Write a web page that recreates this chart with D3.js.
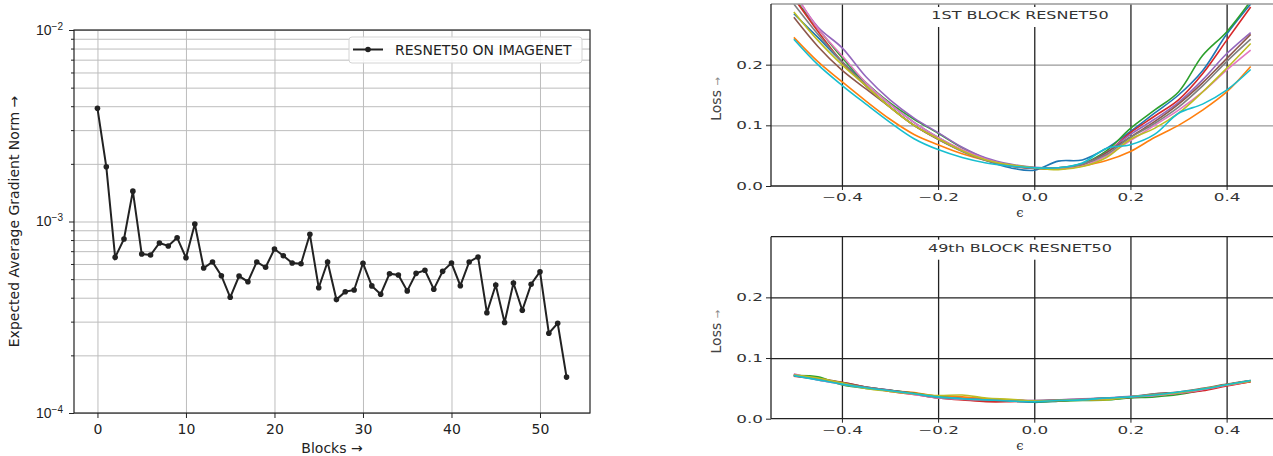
<!DOCTYPE html>
<html>
<head>
<meta charset="utf-8">
<script src="https://cdn.jsdelivr.net/npm/d3@7"></script>
<style>
  body { margin: 0; background: #fff; }
  svg { display: block; font-family: "DejaVu Sans", sans-serif; }
</style>
</head>
<body>
<svg id="fig" width="1273" height="456"></svg>
<script>
// ---- data ----
const blocks = [0,1,2,3,4,5,6,7,8,9,10,11,12,13,14,15,16,17,18,19,20,21,22,23,24,25,26,
  27,28,29,30,31,32,33,34,35,36,37,38,39,40,41,42,43,44,45,46,47,48,49,50,51,52,53];
const gradNorm = [3.9e-3,1.93e-3,6.5e-4,8.1e-4,1.44e-3,6.76e-4,6.68e-4,7.72e-4,7.45e-4,8.23e-4,
  6.47e-4,9.7e-4,5.72e-4,6.15e-4,5.21e-4,4.02e-4,5.19e-4,4.85e-4,6.15e-4,5.77e-4,
  7.18e-4,6.63e-4,6.07e-4,6.02e-4,8.57e-4,4.51e-4,6.15e-4,3.91e-4,4.3e-4,4.39e-4,
  6.05e-4,4.61e-4,4.17e-4,5.34e-4,5.26e-4,4.34e-4,5.36e-4,5.56e-4,4.43e-4,5.49e-4,
  6.07e-4,4.62e-4,6.15e-4,6.53e-4,3.34e-4,4.66e-4,2.97e-4,4.77e-4,3.44e-4,4.7e-4,
  5.47e-4,2.61e-4,2.94e-4,1.54e-4];
const blockTicks = [0,10,20,30,40,50];
const legendLabel = 'RESNET50 ON IMAGENET';

const eps = [-0.5,-0.45,-0.4,-0.35,-0.3,-0.25,-0.2,-0.15,-0.1,-0.05,0,0.05,0.1,0.15,0.2,0.25,0.3,0.35,0.4,0.45];
const epsTicks = [-0.4,-0.2,0,0.2,0.4];
const lossTicks = [0,0.1,0.2];
const colors = ['#1f77b4','#ff7f0e','#2ca02c','#d62728','#9467bd','#8c564b','#e377c2','#7f7f7f','#bcbd22','#17becf'];

// 1st block loss curves (one per direction)
const b1Blue   = [0.284,0.245,0.205,0.17,0.135,0.105,0.08,0.058,0.042,0.03,0.026,0.041,0.043,0.062,0.09,0.12,0.15,0.19,0.25,0.30];
const b1Orange = [0.245,0.205,0.172,0.14,0.11,0.085,0.068,0.053,0.042,0.034,0.03,0.028,0.033,0.042,0.057,0.08,0.1,0.125,0.155,0.197];
const b1Green  = [0.31,0.26,0.212,0.17,0.137,0.11,0.087,0.063,0.045,0.034,0.03,0.03,0.037,0.058,0.095,0.125,0.155,0.215,0.254,0.305];
const b1Red    = [0.31,0.255,0.205,0.165,0.13,0.1,0.077,0.058,0.043,0.033,0.03,0.028,0.035,0.055,0.088,0.115,0.142,0.185,0.24,0.295];
const b1Purple = [0.32,0.262,0.228,0.18,0.142,0.112,0.088,0.064,0.046,0.036,0.031,0.03,0.036,0.055,0.085,0.11,0.138,0.175,0.218,0.253];
const b1Brown  = [0.278,0.23,0.191,0.16,0.13,0.1,0.078,0.058,0.043,0.033,0.029,0.029,0.035,0.055,0.081,0.106,0.135,0.17,0.21,0.25];
const b1Pink   = [0.32,0.26,0.215,0.17,0.135,0.105,0.08,0.06,0.044,0.034,0.03,0.029,0.033,0.05,0.075,0.1,0.125,0.155,0.191,0.224];
const b1Gray   = [0.3,0.25,0.205,0.165,0.13,0.1,0.077,0.057,0.042,0.033,0.03,0.03,0.036,0.052,0.08,0.103,0.13,0.165,0.205,0.242];
const b1Olive  = [0.287,0.24,0.2,0.165,0.13,0.1,0.078,0.058,0.043,0.035,0.03,0.027,0.032,0.047,0.077,0.095,0.12,0.155,0.194,0.235];
const b1Cyan   = [0.242,0.2,0.166,0.135,0.105,0.078,0.06,0.047,0.038,0.033,0.03,0.03,0.038,0.062,0.068,0.085,0.12,0.135,0.158,0.192];

// 49th block loss curves
const b49Blue   = [0.073,0.066,0.059,0.052,0.047,0.042,0.037,0.034,0.031,0.030,0.027,0.029,0.032,0.034,0.036,0.039,0.042,0.048,0.056,0.062];
const b49Orange = [0.072,0.065,0.058,0.051,0.046,0.043,0.037,0.036,0.033,0.031,0.029,0.031,0.031,0.033,0.035,0.038,0.043,0.049,0.055,0.061];
const b49Green  = [0.071,0.069,0.056,0.05,0.047,0.042,0.036,0.033,0.031,0.030,0.028,0.029,0.030,0.031,0.034,0.036,0.040,0.047,0.056,0.062];
const b49Red    = [0.070,0.065,0.060,0.052,0.045,0.040,0.034,0.031,0.028,0.028,0.029,0.030,0.031,0.032,0.036,0.039,0.042,0.046,0.054,0.061];
const b49Purple = [0.072,0.064,0.058,0.051,0.047,0.041,0.035,0.033,0.031,0.031,0.029,0.031,0.033,0.034,0.037,0.040,0.043,0.048,0.056,0.062];
const b49Brown  = [0.071,0.066,0.060,0.052,0.047,0.041,0.034,0.032,0.030,0.030,0.029,0.030,0.032,0.034,0.035,0.041,0.044,0.050,0.057,0.063];
const b49Pink   = [0.074,0.064,0.057,0.051,0.046,0.040,0.034,0.032,0.031,0.031,0.030,0.031,0.032,0.033,0.036,0.038,0.042,0.048,0.055,0.062];
const b49Gray   = [0.072,0.066,0.058,0.052,0.046,0.041,0.035,0.033,0.031,0.031,0.030,0.031,0.032,0.034,0.036,0.041,0.043,0.049,0.056,0.063];
const b49Olive  = [0.072,0.067,0.059,0.050,0.045,0.041,0.038,0.039,0.034,0.032,0.029,0.030,0.031,0.031,0.036,0.039,0.043,0.049,0.056,0.062];
const b49Cyan   = [0.071,0.064,0.057,0.051,0.046,0.041,0.036,0.033,0.031,0.029,0.028,0.030,0.031,0.034,0.036,0.039,0.044,0.049,0.056,0.063];

const block1 = [b1Blue,b1Orange,b1Green,b1Red,b1Purple,b1Brown,b1Pink,b1Gray,b1Olive,b1Cyan];
const block49 = [b49Blue,b49Orange,b49Green,b49Red,b49Purple,b49Brown,b49Pink,b49Gray,b49Olive,b49Cyan];

const svg = d3.select('#fig');
const ink = '#222';

// ---- left: gradient norm per block ----
const L = {left: 74, right: 590, top: 30, bottom: 413};
const x = d3.scaleLinear().domain([-2.65, 55.65]).range([L.left, L.right]);
const y = d3.scaleLog().domain([1e-4, 1e-2]).range([L.bottom, L.top]);
const logTicks = y.ticks();           // 1e-4, 2e-4 ... 1e-2
const majors = [1e-4, 1e-3, 1e-2];

// grid
svg.append('g')
  .attr('transform', `translate(${L.left},0)`)
  .call(d3.axisLeft(y).tickValues(logTicks).tickSize(-(L.right - L.left)).tickFormat(''))
  .call(g => g.select('.domain').remove())
  .call(g => g.selectAll('line').attr('stroke', '#bdbdbd').attr('stroke-width', 1));
svg.append('g')
  .attr('transform', `translate(0,${L.bottom})`)
  .call(d3.axisBottom(x).tickValues(blockTicks).tickSize(-(L.bottom - L.top)).tickFormat(''))
  .call(g => g.select('.domain').remove())
  .call(g => g.selectAll('line').attr('stroke', '#bdbdbd').attr('stroke-width', 1));

// frame
svg.append('rect')
  .attr('x', L.left).attr('y', L.top)
  .attr('width', L.right - L.left).attr('height', L.bottom - L.top)
  .attr('fill', 'none').attr('stroke', ink).attr('stroke-width', 1.2);

// axes
const yAx = svg.append('g')
  .attr('transform', `translate(${L.left},0)`)
  .call(d3.axisLeft(y).tickValues(logTicks).tickSizeOuter(0).tickFormat(''))
  .call(g => g.select('.domain').remove());
yAx.selectAll('.tick line')
  .attr('x2', d => majors.includes(d) ? -5 : -3)
  .attr('stroke', ink).attr('stroke-width', 1);
yAx.selectAll('.tick').filter(d => majors.includes(d))
  .append('text')
  .attr('x', -11).attr('dy', '0.32em')
  .attr('text-anchor', 'end').attr('fill', ink).attr('font-size', 14)
  .each(function (d) {
    const t = d3.select(this);
    t.append('tspan').text('10');
    t.append('tspan').attr('dy', '-0.5em').attr('font-size', 10).text('\u2212' + Math.round(-Math.log10(d)));
  });

const xAx = svg.append('g')
  .attr('transform', `translate(0,${L.bottom})`)
  .call(d3.axisBottom(x).tickValues(blockTicks).tickSize(5).tickPadding(6).tickSizeOuter(0))
  .call(g => g.select('.domain').remove());
xAx.selectAll('line').attr('stroke', ink);
xAx.selectAll('text').attr('fill', ink).attr('font-size', 14).attr('font-family', '"DejaVu Sans", sans-serif');

// series
const line = d3.line().x((d, i) => x(blocks[i])).y(d => y(d));
svg.append('path')
  .datum(gradNorm)
  .attr('d', line)
  .attr('fill', 'none').attr('stroke', ink).attr('stroke-width', 2);
svg.append('g').selectAll('circle')
  .data(gradNorm)
  .join('circle')
  .attr('cx', (d, i) => x(blocks[i]))
  .attr('cy', d => y(d))
  .attr('r', 2.8)
  .attr('fill', ink);

// labels
svg.append('text')
  .attr('x', (L.left + L.right) / 2).attr('y', 453)
  .attr('text-anchor', 'middle').attr('fill', ink).attr('font-size', 14)
  .text('Blocks \u2192');
svg.append('text')
  .attr('transform', `translate(19,${(L.top + L.bottom) / 2}) rotate(-90)`)
  .attr('text-anchor', 'middle').attr('fill', ink).attr('font-size', 14)
  .text('Expected Average Gradient Norm \u2192');

// legend
const lg = svg.append('g');
lg.append('rect')
  .attr('x', 349).attr('y', 37).attr('width', 233).attr('height', 26).attr('rx', 3)
  .attr('fill', '#fff').attr('fill-opacity', 0.85)
  .attr('stroke', '#d4d4d4');
lg.append('line')
  .attr('x1', 353).attr('x2', 383).attr('y1', 49.5).attr('y2', 49.5)
  .attr('stroke', ink).attr('stroke-width', 2);
lg.append('circle').attr('cx', 368).attr('cy', 49.5).attr('r', 2.8).attr('fill', ink);
lg.append('text')
  .attr('x', 395).attr('y', 54.5)
  .attr('fill', ink).attr('font-size', 14)
  .text(legendLabel);

// ---- right: loss landscapes ----
const SX = 1.6; // the right panels are stretched horizontally
const ex = d3.scaleLinear().domain([-0.5475, 0.4975]).range([771, 1273.5]);

function lossPanel(top, bottom, series, title, hGridColor, id) {
  const ly = d3.scaleLinear().domain([0, 0.3]).range([bottom, top]);
  const g = svg.append('g');

  g.append('clipPath').attr('id', id)
    .append('rect').attr('x', 771).attr('y', top).attr('width', 503).attr('height', bottom - top);

  // grid
  g.append('g')
    .attr('transform', 'translate(771,0)')
    .call(d3.axisLeft(ly).tickValues(lossTicks.slice(1)).tickSize(-503).tickFormat(''))
    .call(a => a.select('.domain').remove())
    .call(a => a.selectAll('line').attr('stroke', hGridColor).attr('stroke-width', 1.3));
  g.append('g')
    .attr('transform', `translate(0,${bottom})`)
    .call(d3.axisBottom(ex).tickValues(epsTicks).tickSize(-(bottom - top)).tickFormat(''))
    .call(a => a.select('.domain').remove())
    .call(a => a.selectAll('line').attr('stroke', ink).attr('stroke-width', 1.3));

  // curves
  const ln = d3.line().x((d, i) => ex(eps[i])).y(d => ly(d)).curve(d3.curveCatmullRom);
  g.append('g').attr('clip-path', `url(#${id})`)
    .selectAll('path')
    .data(series)
    .join('path')
    .attr('d', ln)
    .attr('fill', 'none')
    .attr('stroke', (d, i) => colors[i])
    .attr('stroke-width', 1.6);

  // spines
  g.append('line').attr('x1', 771).attr('x2', 1273).attr('y1', top).attr('y2', top)
    .attr('stroke', hGridColor).attr('stroke-width', 1.3);
  g.append('line').attr('x1', 771).attr('x2', 1273).attr('y1', bottom).attr('y2', bottom)
    .attr('stroke', ink).attr('stroke-width', 1.3);
  g.append('line').attr('x1', 771).attr('x2', 771).attr('y1', top).attr('y2', bottom)
    .attr('stroke', ink).attr('stroke-width', 1.3);

  // axes
  const xa = g.append('g')
    .attr('transform', `translate(0,${bottom})`)
    .call(d3.axisBottom(ex).tickValues(epsTicks).tickSize(4).tickPadding(4).tickFormat(d3.format('.1f')))
    .call(a => a.select('.domain').remove());
  xa.selectAll('line').attr('stroke', ink);
  xa.selectAll('text')
    .attr('fill', '#333').attr('font-size', 10.5).attr('font-family', '"DejaVu Sans", sans-serif')
    .attr('transform', `scale(${SX},1)`);

  const ya = g.append('g')
    .attr('transform', 'translate(771,0)')
    .call(d3.axisLeft(ly).tickValues(lossTicks).tickSize(5).tickFormat(d3.format('.1f')))
    .call(a => a.select('.domain').remove());
  ya.selectAll('line').attr('stroke', ink);
  ya.selectAll('text')
    .attr('x', -8 / SX)
    .attr('fill', '#333').attr('font-size', 10.5).attr('font-family', '"DejaVu Sans", sans-serif')
    .attr('transform', `scale(${SX},1)`);

  // title with white box over the grid
  const cx = 1020, ty = top + 15;
  g.append('rect').attr('x', cx - 100).attr('y', top + 3).attr('width', 200).attr('height', 20).attr('fill', '#fff');
  g.append('text')
    .attr('transform', `translate(${cx},${ty}) scale(${SX},1)`)
    .attr('text-anchor', 'middle').attr('fill', '#333').attr('font-size', 10)
    .text(title);

  // axis labels
  g.append('text')
    .attr('x', cx).attr('y', bottom + 31)
    .attr('text-anchor', 'middle').attr('fill', '#333')
    .attr('font-size', 13).attr('font-family', '"DejaVu Serif", serif')
    .text('\u03f5');
  const lab = g.append('text')
    .attr('transform', `translate(721,${(top + bottom) / 2 + 4}) rotate(-90)`)
    .attr('text-anchor', 'middle').attr('fill', '#444').attr('font-size', 14);
  lab.append('tspan').text('Loss ');
  lab.append('tspan').attr('fill', '#888').attr('font-size', 10).text('\u2192');
}

lossPanel(4, 186, block1, '1ST BLOCK RESNET50', '#999', 'clipTop');
lossPanel(236.7, 418.7, block49, '49th BLOCK RESNET50', ink, 'clipBottom');
</script>
</body>
</html>
